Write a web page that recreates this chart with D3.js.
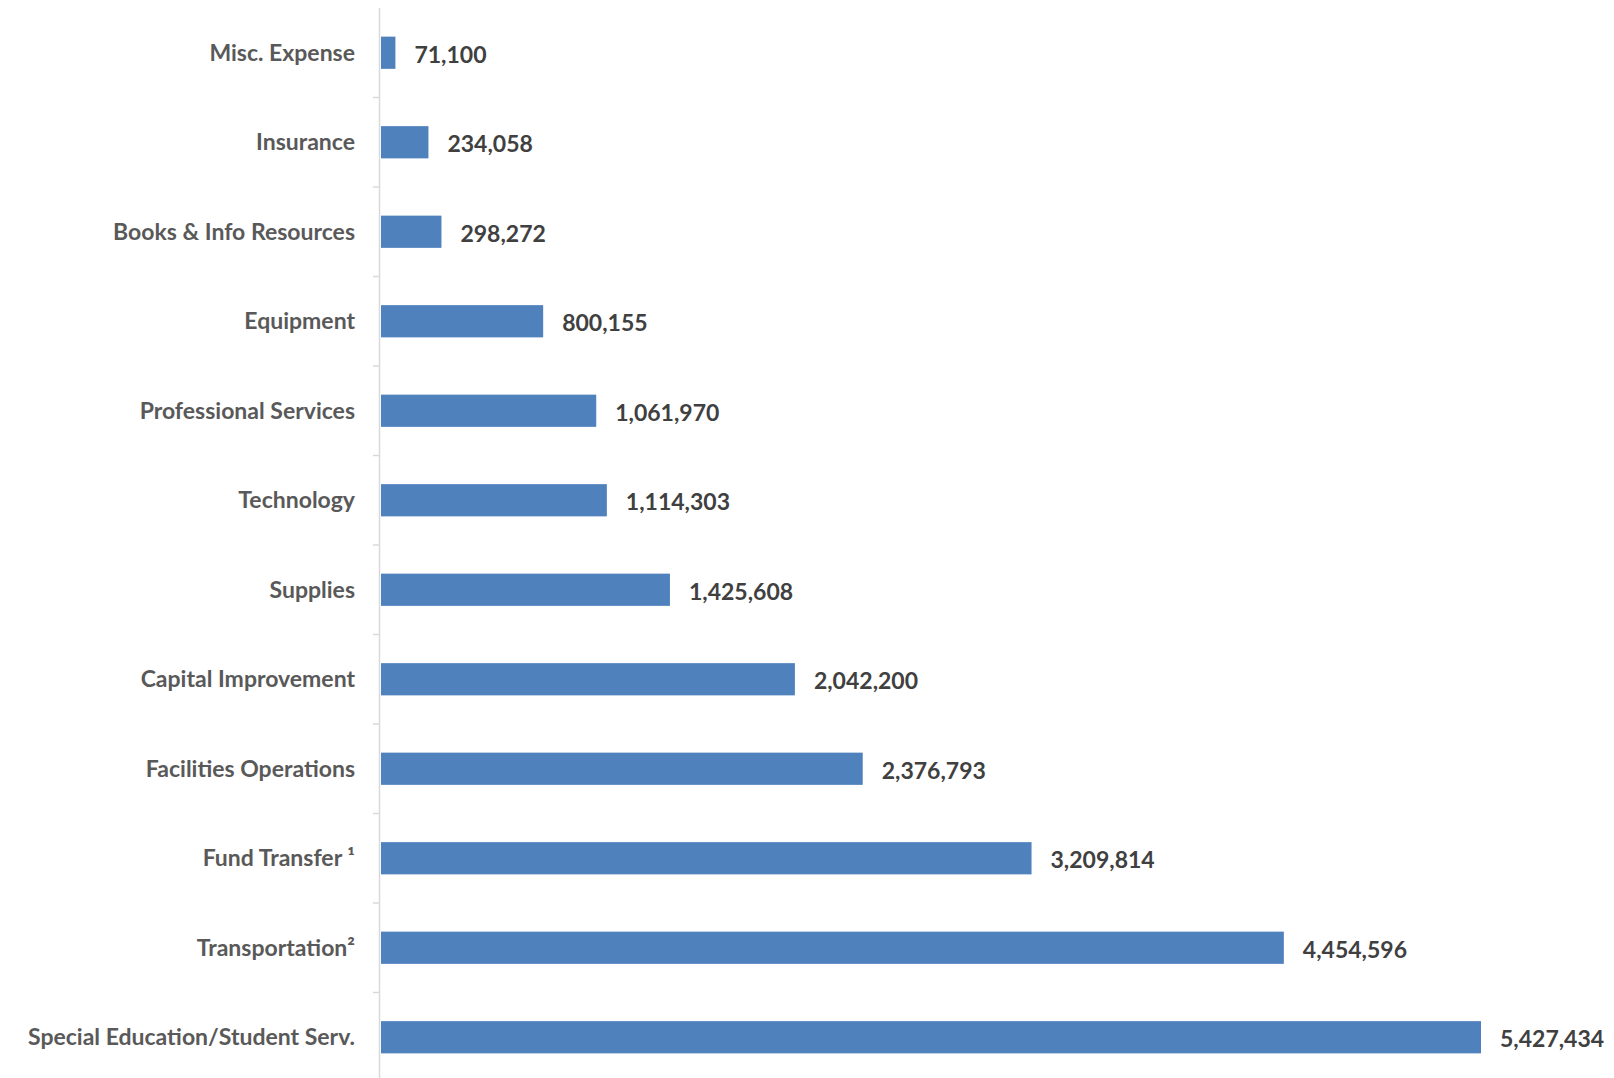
<!DOCTYPE html>
<html>
<head>
<meta charset="utf-8">
<script src="https://cdn.jsdelivr.net/npm/d3@7"></script>
<style>
	body { margin: 0; background: #fff; overflow: hidden; }
	svg text { font-family: Lato, "Open Sans", sans-serif; font-weight: 700; }
</style>
</head>
<body>
<svg id="chart" width="1614" height="1078"></svg>
<script>
	var categories = ["Misc. Expense", "Insurance", "Books & Info Resources", "Equipment",
		"Professional Services", "Technology", "Supplies", "Capital Improvement",
		"Facilities Operations", "Fund Transfer \u00b9", "Transportation\u00b2",
		"Special Education/Student Serv."]
	var values = [71100, 234058, 298272, 800155, 1061970, 1114303, 1425608,
		2042200, 2376793, 3209814, 4454596, 5427434]

	var data = categories.map(function (c, i) {
		return { name: c, value: values[i] }
	})

	var svg = d3.select("#chart"),
		margin = { top: 8, right: 130, bottom: -4, left: 380 },
		width = 1614 - margin.left - margin.right,
		height = 1078 - margin.top - margin.bottom;

	var x = d3.scaleLinear().domain([0, 5427434]).range([0, 1100]);
	var y = d3.scaleBand().domain(categories).range([0, height]).paddingInner(0.64).paddingOuter(0.32);

	var g = svg.append("g")
		.attr("transform", "translate(" + margin.left + "," + margin.top + ")");

	// axis line + ticks at band boundaries
	var step = y.step();
	g.append("line")
		.attr("x1", -0.5).attr("x2", -0.5)
		.attr("y1", 0).attr("y2", height)
		.style("stroke", "#d9d9d9").style("stroke-width", 1.5)
	g.selectAll(".tick")
		.data(d3.range(1, categories.length))
		.enter()
		.append("line")
		.attr("x1", -7).attr("x2", -0.5)
		.attr("y1", function (d) { return d * step })
		.attr("y2", function (d) { return d * step })
		.style("stroke", "#d9d9d9").style("stroke-width", 1.5)

	g.selectAll(".bar")
		.data(data)
		.enter()
		.append("rect")
		.attr("class", "bar")
		.attr("x", 1)
		.attr("y", function (d) { return y(d.name) })
		.attr("height", y.bandwidth())
		.attr("width", function (d) { return x(d.value) })
		.style("fill", "#4f81bd")

	g.selectAll(".cat")
		.data(data)
		.enter()
		.append("text")
		.attr("x", -25)
		.attr("y", function (d) { return y(d.name) + y.bandwidth() / 2 })
		.attr("dy", "0.35em")
		.attr("text-anchor", "end")
		.style("font-size", "23px")
		.style("fill", "#595959")
		.text(function (d) { return d.name })

	g.selectAll(".label")
		.data(data)
		.enter()
		.append("text")
		.attr("x", function (d) { return x(d.value) + 20 })
		.attr("y", function (d) { return y(d.name) + y.bandwidth() / 2 + 2 })
		.attr("dy", "0.35em")
		.style("font-size", "23px")
		.style("fill", "#404040")
		.text(function (d) { return d3.format(",")(d.value) })
</script>
</body>
</html>
